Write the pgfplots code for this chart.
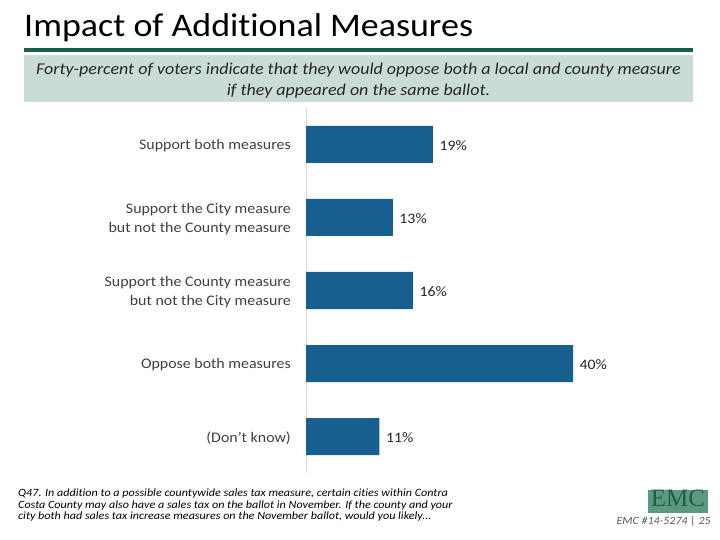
\documentclass[border=0pt]{standalone}
\usepackage{pgfplots}
\pgfplotsset{compat=1.18}
\usepackage{fontspec}
\setmainfont{Carlito}[FakeStretch=1.09, Ligatures=NoCommon]
\newfontfamily\logofont{Liberation Serif}
\definecolor{titlegreen}{HTML}{1B5E48}
\definecolor{boxgreen}{HTML}{CADDD5}
\definecolor{barblue}{HTML}{175F8E}
\definecolor{labgray}{HTML}{404040}
\definecolor{valgray}{HTML}{262626}
\definecolor{logogreen}{HTML}{5A9A80}
\definecolor{logotext}{HTML}{1F5E45}
\begin{document}
\begin{tikzpicture}[x=1pt,y=1pt]
\path[use as bounding box] (0,0) rectangle (720,540);
% title
\node[anchor=base west, inner sep=0pt] at (24,503) {\fontsize{33}{38}\selectfont Impact of Additional Measures};
\fill[titlegreen] (24,488) rectangle (693,492);
\fill[boxgreen] (24,438) rectangle (693,485);
\node[anchor=base, inner sep=0pt, font=\fontsize{16.5}{20}\selectfont\itshape, text=black!85] at (358.5,465)
  {Forty-percent of voters indicate that they would oppose both a local and county measure};
\node[anchor=base, inner sep=0pt, font=\fontsize{16.5}{20}\selectfont\itshape, text=black!85] at (358.5,444)
  {if they appeared on the same ballot.};
% chart
\begin{axis}[
  at={(306pt,67pt)}, anchor=south west,
  scale only axis, width=400.5pt, height=365pt,
  xmin=0, xmax=60, ymin=-0.5, ymax=4.5, y dir=reverse,
  xbar, bar width=37pt,
  axis x line=none,
  axis y line*=left,
  y axis line style={draw=black!15, line width=0.8pt},
  ytick={0,1,2,3,4},
  yticklabels={{Support both measures},{Support the City measure\\but not the County measure},{Support the County measure\\but not the City measure},{Oppose both measures},{(Don't know)}},
  major tick length=0pt,
  yticklabel style={align=right, inner sep=0pt, xshift=-15pt, yshift=-1.5pt, text=labgray, font=\fontsize{14.6}{19}\selectfont},
  nodes near coords={\pgfplotspointmeta\%},
  nodes near coords style={anchor=west, inner sep=0pt, xshift=6.5pt, yshift=-1.5pt, text=valgray, font=\fontsize{14.5}{18}\selectfont},
  point meta=explicit symbolic,
  clip=false,
]
\addplot[fill=barblue, draw=none] table[meta=label] {
x y label
19 0 19
13 1 13
16 2 16
40 3 40
11 4 11
};
\end{axis}
% footer
\foreach \yy/\txt in {43/{Q47. In addition to a possible countywide sales tax measure, certain cities within Contra},
                      31.5/{Costa County may also have a sales tax on the ballot in November. If the county and your},
                      20/{city both had sales tax increase measures on the November ballot, would you likely...}}
  \node[anchor=base west, inner sep=0pt, font=\fontsize{11.1}{12}\selectfont\itshape, text=black] at (18,\yy) {\txt};
\fill[logogreen] (648,27) rectangle (708,50);
\node[anchor=base, inner sep=0pt, text=logotext, font=\logofont\fontsize{25}{25}\selectfont] at (678,33) {EMC};
\node[anchor=base east, inner sep=0pt, text=black!65, font=\fontsize{11}{13}\selectfont\itshape] at (711,15) {EMC \#14-5274 | 25};
\end{tikzpicture}
\end{document}
